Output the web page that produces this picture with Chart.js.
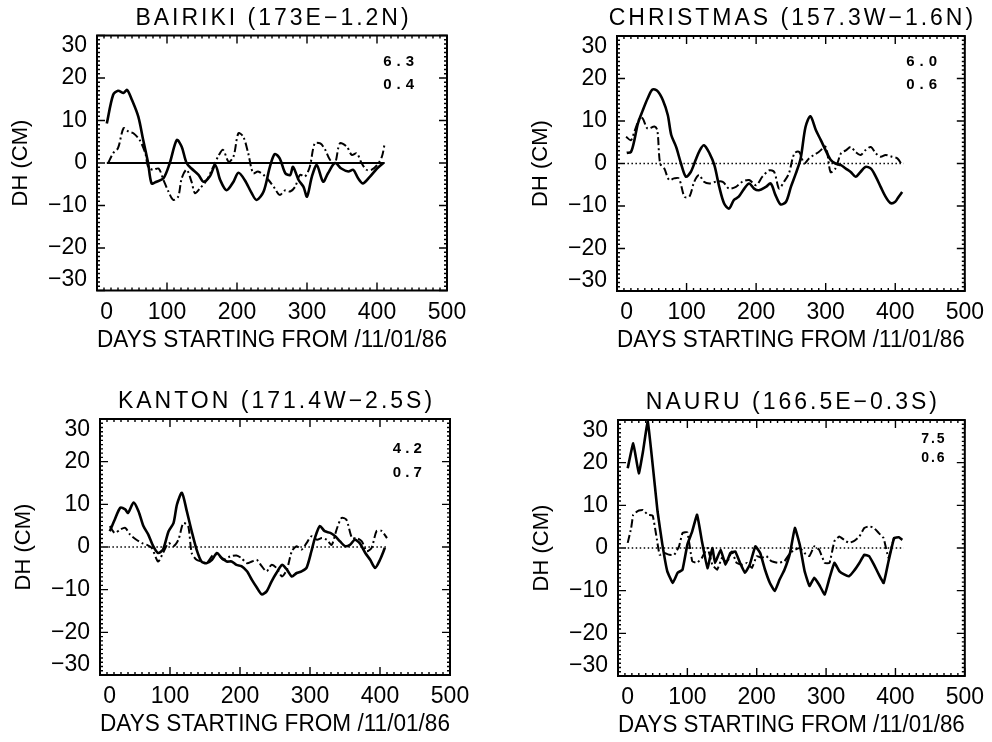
<!DOCTYPE html>
<html>
<head>
<meta charset="utf-8">
<script src="https://cdn.jsdelivr.net/npm/chart.js@4.4.1/dist/chart.umd.min.js"></script>
<style>
  body { margin: 0; background: #fff; }
  #wrap { position: relative; width: 992px; height: 742px; overflow: hidden; }
  canvas { position: absolute; }
</style>
</head>
<body>
<div id="wrap">
  <canvas id="c0" width="496" height="371" style="left:0;top:0"></canvas>
  <canvas id="c1" width="496" height="371" style="left:496px;top:0"></canvas>
  <canvas id="c2" width="496" height="371" style="left:0;top:371px"></canvas>
  <canvas id="c3" width="496" height="371" style="left:496px;top:371px"></canvas>
</div>
<script>
// --- data ---
const dayTicks = [0, 100, 200, 300, 400, 500];
const dhTicks = [-30, -20, -10, 0, 10, 20, 30];

const stationTitles = [
  'BAIRIKI (173E\u22121.2N)',
  'CHRISTMAS (157.3W\u22121.6N)',
  'KANTON (171.4W\u22122.5S)',
  'NAURU (166.5E\u22120.3S)'
];
const rmsNotes = [['6.3', '0.4'], ['6.0', '0.6'], ['4.2', '0.7'], ['7.5', '0.6']];

const zeroDH = [0, 0];

const bairikiSolidDays = [14,23,30,38,43,50,59,66,73,78,85,95,104,114,121,128,135,145,152,161,169,176,185,195,202,211,221,228,238,247,254,261,269,276,280,288,295,300,307,314,323,330,340,349,359,366,373,380,390,400,409];
const bairikiSolidDH = [9.3,16,17,16.5,17.2,14.8,10.9,5.4,0,-4.8,-4.4,-3.6,0,5.4,3.8,0,-1.3,-2.8,-4.4,-3.2,-0.5,-4,-6.4,-4.4,-2.3,-4,-7.1,-8.7,-6.7,-0.9,2.1,1.1,-2.4,-2.8,-0.9,-4,-5.6,-7.9,-3.2,-0.5,-4.4,-2.4,0,-1.3,-2,-1.6,-3.6,-4.8,-3.2,-1.3,0];
const bairikiDashDays = [16,23,30,38,45,52,61,69,73,80,88,95,102,109,116,121,128,135,140,147,157,166,173,180,188,195,202,209,216,223,230,238,245,254,261,269,276,283,290,297,304,311,319,326,333,340,347,357,364,371,378,385,392,400,407,411];
const bairikiDashDH = [0,2.3,3.5,8.2,7.4,7,5.4,2.3,-0.9,-1.6,-1.3,-4,-6.7,-8.7,-7.9,-3.6,-1.6,-4.4,-7.1,-6,-4,-0.9,1.5,3.1,0.3,1.5,7,6.2,2.3,-2.4,-2,-2.8,-4,-6,-7.5,-6.4,-6.7,-5.6,-2.8,-3.2,-0.9,4.6,4.6,3.1,0.7,0,4.6,3.8,1.9,2.3,0,-1.6,-1.6,-0.5,1.5,4.6];
const bairikiZeroDays = [14, 411];

const christmasSolidDays = [14,20,25,30,37,44,51,58,66,73,78,85,92,99,106,113,119,125,133,140,147,154,161,168,175,183,190,197,204,214,221,228,235,243,250,257,264,271,278,286,293,300,307,314,322,329,336,343,350,357,365,372,379,386,393,400,405,410];
const christmasSolidDH = [2.5,2.7,5.5,9.4,12.5,15.3,17.4,17.1,14.9,11.4,6.7,3.9,0,-3.1,-2,0.8,3.1,4.3,2.4,-0.4,-5.5,-9.4,-10.6,-8.6,-7.8,-5.9,-4.7,-5.9,-6.3,-5.5,-4.7,-7.5,-9.6,-9,-5.5,-2.4,1.2,8.6,11.1,7.8,5.5,3.1,0.9,0,-0.4,-1.2,-2,-3.1,-2,-0.8,-1.2,-3.1,-5.5,-7.8,-9.3,-9,-7.8,-6.7];
const christmasDashDays = [13,20,25,33,37,44,54,58,62,68,75,82,89,97,104,111,118,125,133,142,152,161,171,180,190,200,209,219,226,233,240,247,255,262,269,276,283,290,300,307,314,322,329,336,343,350,357,365,372,379,386,395,403,410];
const christmasDashDH = [6.3,5.5,7.5,10.8,10.6,8.2,8.7,7.8,0,-1.2,-3.9,-3.5,-3.5,-7.8,-7.8,-4.3,-2.7,-4.3,-4.7,-4.3,-4.3,-5.9,-5.5,-4.3,-3.9,-5.1,-3.1,-1.6,-2,-5.9,-4.3,-2.4,2.4,2.7,0,1.2,2,2.7,3.9,-2,-1.2,2.4,3.1,3.9,2.7,2,3.1,3.9,2.4,1.6,2,1.6,1.2,-0.4];
const christmasZeroDays = [15, 412];

const kantonSolidDays = [14,21,29,36,40,48,55,62,69,76,83,90,98,105,110,117,124,131,138,145,152,160,167,174,181,188,195,202,210,217,224,231,238,245,252,260,267,274,281,288,295,302,307,314,321,329,336,343,350,357,364,371,379,386,393,400,407];
const kantonSolidDH = [3.7,6.4,9.2,8.8,8,10.4,8.4,4.9,2.9,0.2,-1.4,-0.6,3.7,5.6,10,12.7,8.4,3.7,-0.6,-3.4,-3.8,-3,-1.4,-2.6,-3.4,-3.4,-4.2,-4.5,-5.7,-7.7,-9.5,-11.1,-10.4,-8.1,-6.1,-4.2,-5.3,-6.9,-6.1,-5.7,-4.9,-1,2.1,4.9,3.7,3.3,2.5,1.3,0.2,0.5,1.7,0.9,-1.4,-3,-4.9,-3,-0.2];
const kantonDashDays = [14,21,29,36,43,52,60,67,74,83,90,98,105,112,119,126,131,138,145,152,162,169,176,186,195,202,210,217,224,231,238,245,252,260,267,274,281,288,295,302,310,317,324,331,338,345,352,360,367,374,381,388,395,402,410];
const kantonDashDH = [4.9,3.3,4.1,4.5,2.9,1.7,0.9,0.5,-0.2,-3.4,-1.4,0.9,0.2,1.7,5.6,4.9,-1.4,-3,-3.4,-3.8,-1.8,-1.8,-3,-2.2,-2,-2.6,-3.8,-3.4,-3,-4.5,-5.7,-4.2,-4.9,-6.9,-5.3,-1,0.2,-0.6,0.9,2.5,1.7,2.1,1.7,0.5,4.1,6.8,6.4,2.1,2.1,1.3,-1,-0.2,3.7,3.8,2.1];
const kantonZeroDays = [12, 410];

const nauruSolidDays = [14,22,30,36,43,57,64,71,79,86,93,100,107,114,121,129,136,140,148,155,162,169,176,183,190,198,205,212,219,226,233,240,248,255,262,269,276,283,290,298,305,312,319,326,333,340,348,355,362,369,376,383,390,398,405,410];
const nauruSolidDH = [18.7,24.5,17.5,22.6,29.6,8.6,0.8,-5.4,-8.2,-5.8,-5.1,0.8,3.9,7.8,1.6,-4.7,0,-3.5,-0.4,-3.9,-1.2,-0.8,-3.5,-5.8,-3.9,0.4,-1.2,-5.1,-8.2,-10.1,-7.4,-5.1,-1.2,4.7,0.8,-5.4,-8.9,-7,-8.6,-10.9,-7,-3.5,-5.4,-6.2,-6.6,-5.4,-3.5,-1.6,-1.9,-3.9,-6.2,-8.2,-3.1,2.3,2.5,1.9];
const nauruDashDays = [14,19,22,29,36,43,50,55,60,67,74,81,88,93,100,107,114,121,129,136,143,150,157,164,171,179,186,193,200,207,214,221,231,240,248,255,262,269,276,283,290,298,305,312,319,326,333,340,348,355,362,369,376,383,390,398];
const nauruDashDH = [1.2,4.7,7.8,8.7,8.9,7.8,7.6,3.1,-1.6,-1.2,-1.6,-1.6,0.4,3.5,3.7,-3.1,-3.5,-2.3,0,-3.9,-5.1,-2.3,-3.5,-0.8,-3.5,-3.9,-3.5,-4.7,-1.9,-2.3,-1.9,-3.1,-3.5,-3.1,-1.2,-0.4,0,-1.2,-1.9,0.4,-0.4,-3.5,-3.5,1.6,2.7,1.9,1.2,1.6,2.7,4.7,5.1,4.7,3.5,2.3,-2.3,2.5];
const nauruZeroDays = [14, 412];

// --- layout of each panel inside its canvas (chart area edges, px) ---
const panels = [
  { area: { left: 97, top: 35.5, right: 447, bottom: 290.5 }, notes: [431, 23.8, 18.4], noteFont: 15, noteGap: 5, zeroSolid: true, tension: 0.3 },
  { area: { left: 121, top: 36, right: 470, bottom: 291 }, notes: [438, 23.8, 18.4], noteFont: 15, noteGap: 5, zeroSolid: false, tension: 0.3 },
  { area: { left: 100, top: 48, right: 450, bottom: 304 }, notes: [439, 23, 17.3], noteFont: 15, noteGap: 4, zeroSolid: false, tension: 0.25 },
  { area: { left: 122, top: 49, right: 472, bottom: 305 }, notes: [454, 25.5, 21.1], noteFont: 14, noteGap: 2, zeroSolid: false, tension: 0.1 }
];

const series = [
  [bairikiZeroDays, bairikiDashDays, bairikiDashDH, bairikiSolidDays, bairikiSolidDH],
  [christmasZeroDays, christmasDashDays, christmasDashDH, christmasSolidDays, christmasSolidDH],
  [kantonZeroDays, kantonDashDays, kantonDashDH, kantonSolidDays, kantonSolidDH],
  [nauruZeroDays, nauruDashDays, nauruDashDH, nauruSolidDays, nauruSolidDH]
];

const FONT = '"Liberation Sans", Arial, Helvetica, sans-serif';
const CW = 496, CH = 371;

function toPoints(days, dh) {
  return days.map((d, i) => ({ x: d, y: dh[i] }));
}

// box with inward major/minor ticks on all four sides
const frameTicks = {
  id: 'frameTicks',
  afterDatasetsDraw(chart) {
    const { ctx, chartArea: a, scales: { x, y } } = chart;
    ctx.save();
    ctx.strokeStyle = '#000';
    ctx.lineWidth = 2;
    ctx.strokeRect(a.left, a.top, a.right - a.left, a.bottom - a.top);
    ctx.lineWidth = 1.4;
    ctx.beginPath();
    for (let d = 0; d <= 500; d += 10) {
      const px = x.getPixelForValue(d);
      const len = d % 100 === 0 ? 8 : 3;
      ctx.moveTo(px, a.bottom); ctx.lineTo(px, a.bottom - len);
      ctx.moveTo(px, a.top); ctx.lineTo(px, a.top + len);
    }
    for (let v = -30; v <= 30; v += 1) {
      const py = y.getPixelForValue(v);
      const len = v % 10 === 0 ? 8 : 3;
      ctx.moveTo(a.left, py); ctx.lineTo(a.left + len, py);
      ctx.moveTo(a.right, py); ctx.lineTo(a.right - len, py);
    }
    ctx.stroke();
    ctx.restore();
  }
};

// station title above the box and the two numbers in the corner
const panelText = {
  id: 'panelText',
  afterDraw(chart, args, opts) {
    const { ctx, chartArea: a, scales: { x, y } } = chart;
    ctx.save();
    ctx.fillStyle = '#000';
    ctx.textAlign = 'center';
    ctx.textBaseline = 'middle';
    ctx.font = '23px ' + FONT;
    ctx.letterSpacing = '3px';
    ctx.fillText(opts.title, (a.left + a.right) / 2 + 1.5, a.top - 17);
    ctx.font = 'bold ' + opts.noteFont + 'px ' + FONT;
    ctx.letterSpacing = opts.noteGap + 'px';
    const nx = x.getPixelForValue(opts.notes[0]) + opts.noteGap / 2;
    ctx.fillText(opts.lines[0], nx, y.getPixelForValue(opts.notes[1]));
    ctx.fillText(opts.lines[1], nx, y.getPixelForValue(opts.notes[2]));
    ctx.restore();
  }
};

function dhLabel(v) {
  const s = v < 0 ? '\u2212' + Math.abs(v) : String(v);
  if (v === 30) return ['', s];
  if (v === -30) return [s, ''];
  return s;
}

function makeChart(idx) {
  const p = panels[idx];
  const [zeroDays, dashDays, dashDH, solidDays, solidDH] = series[idx];
  const xH = CH - p.area.bottom;
  const ctx = document.getElementById('c' + idx).getContext('2d');
  new Chart(ctx, {
    type: 'line',
    data: {
      datasets: [
        {
          data: toPoints(zeroDays, zeroDH),
          borderColor: '#000',
          borderWidth: p.zeroSolid ? 2 : 1.6,
          borderDash: p.zeroSolid ? [] : [1.5, 2.5],
          pointRadius: 0,
          tension: 0
        },
        {
          data: toPoints(dashDays, dashDH),
          borderColor: '#000',
          borderWidth: 2,
          borderDash: [8, 3, 2, 3],
          pointRadius: 0,
          tension: p.tension
        },
        {
          data: toPoints(solidDays, solidDH),
          borderColor: '#000',
          borderWidth: 2.6,
          pointRadius: 0,
          tension: p.tension
        }
      ]
    },
    options: {
      responsive: false,
      animation: false,
      devicePixelRatio: 1,
      layout: { padding: { left: 0, top: p.area.top, right: CW - p.area.right, bottom: 0 } },
      plugins: {
        legend: { display: false },
        tooltip: { enabled: false },
        panelText: { title: stationTitles[idx], lines: rmsNotes[idx], notes: p.notes, noteFont: p.noteFont, noteGap: p.noteGap }
      },
      scales: {
        x: {
          type: 'linear',
          min: 0,
          max: 500,
          afterBuildTicks: (s) => { s.ticks = dayTicks.map(v => ({ value: v })); },
          afterFit: (s) => { s.height = xH; },
          grid: { display: false, drawTicks: false },
          border: { display: false },
          ticks: {
            color: '#000',
            padding: 8,
            maxRotation: 0,
            autoSkip: false,
            font: { family: FONT, size: 23 },
            callback: (v) => v === 0 ? '   0' : String(v)
          },
          title: {
            display: true,
            text: 'DAYS STARTING FROM /11/01/86',
            color: '#000',
            font: { family: FONT, size: 23 },
            padding: { top: 0, bottom: xH - 50 - 13.8 }
          }
        },
        y: {
          type: 'linear',
          min: -30,
          max: 30,
          afterBuildTicks: (s) => { s.ticks = dhTicks.map(v => ({ value: v })); },
          afterFit: (s) => { s.width = p.area.left; },
          grid: { display: false, drawTicks: false },
          border: { display: false },
          ticks: {
            color: '#000',
            padding: 10,
            autoSkip: false,
            font: { family: FONT, size: 23, lineHeight: 0.9 },
            callback: dhLabel
          },
          title: {
            display: true,
            text: 'DH (CM)',
            color: '#000',
            font: { family: FONT, size: 22 },
            padding: { top: p.area.left - 76 - 13.2, bottom: 0 }
          }
        }
      }
    },
    plugins: [frameTicks, panelText]
  });
}

[0, 1, 2, 3].forEach(makeChart);
</script>
</body>
</html>
